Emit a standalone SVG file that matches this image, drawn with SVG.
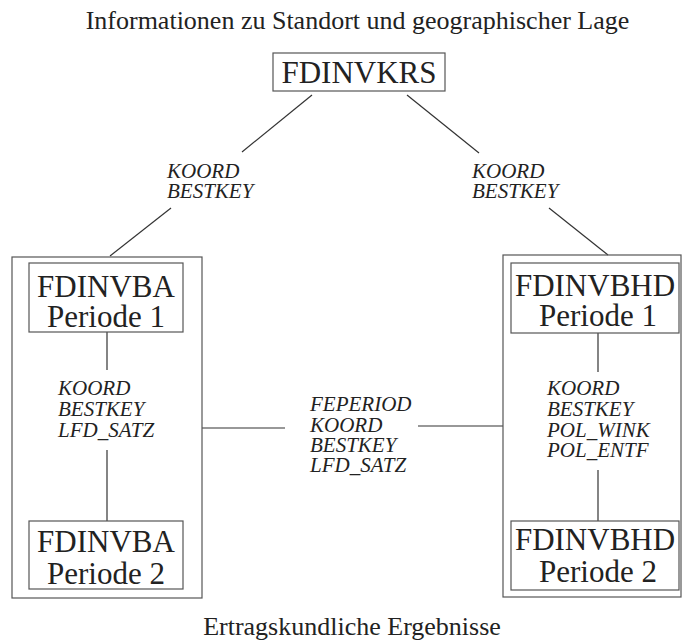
<svg xmlns="http://www.w3.org/2000/svg" width="682" height="641" viewBox="0 0 682 641">
<style>
.t{font-family:"Liberation Serif","Times New Roman",serif;fill:#222}
.h{font-size:26px}
.n{font-size:31px;text-anchor:middle}
.l{font-size:21px;font-style:italic}
.box{fill:none;stroke:#555;stroke-width:1.2}
.c{stroke:#333;stroke-width:1.2;fill:none}
</style>
<rect width="682" height="641" fill="#fff"/>
<text class="t h" x="357.5" y="29" text-anchor="middle">Informationen zu Standort und geographischer Lage</text>
<text class="t h" x="352" y="635" text-anchor="middle">Ertragskundliche Ergebnisse</text>
<g id="connectors">
<line class="c" x1="312" y1="95" x2="242" y2="152"/>
<line class="c" x1="171" y1="208" x2="110" y2="256"/>
<line class="c" x1="407" y1="95" x2="479" y2="153"/>
<line class="c" x1="549" y1="208" x2="608" y2="255"/>
<line class="c" x1="107" y1="332" x2="107" y2="370"/>
<line class="c" x1="107" y1="450" x2="107" y2="521"/>
<line class="c" x1="598" y1="333" x2="598" y2="372"/>
<line class="c" x1="598" y1="470" x2="598" y2="521"/>
<line class="c" x1="202" y1="428" x2="285" y2="428"/>
<line class="c" x1="418" y1="426" x2="503" y2="426"/>
<text class="t l" x="167" y="178">KOORD</text>
<text class="t l" x="167" y="198">BESTKEY</text>
<text class="t l" x="472" y="178">KOORD</text>
<text class="t l" x="472" y="198">BESTKEY</text>
<text class="t l" x="58" y="395">KOORD</text>
<text class="t l" x="58" y="416">BESTKEY</text>
<text class="t l" x="58" y="437">LFD_SATZ</text>
<text class="t l" x="547" y="395">KOORD</text>
<text class="t l" x="547" y="416">BESTKEY</text>
<text class="t l" x="547" y="437">POL_WINK</text>
<text class="t l" x="547" y="457">POL_ENTF</text>
<text class="t l" x="310" y="411">FEPERIOD</text>
<text class="t l" x="310" y="432">KOORD</text>
<text class="t l" x="310" y="452">BESTKEY</text>
<text class="t l" x="310" y="472">LFD_SATZ</text>
</g>
<g id="fdinvkrs">
<rect class="box" x="273" y="53" width="172" height="38"/>
<text class="t n" x="359" y="83">FDINVKRS</text>
</g>
<g id="group-ba">
<rect class="box" x="12" y="257" width="190" height="341"/>
</g>
<g id="fdinvba1">
<rect class="box" x="29" y="263" width="154" height="69"/>
<text class="t n" x="106" y="297">FDINVBA</text>
<text class="t n" x="106" y="327">Periode 1</text>
</g>
<g id="fdinvba2">
<rect class="box" x="29" y="521" width="154" height="68"/>
<text class="t n" x="106" y="552">FDINVBA</text>
<text class="t n" x="106" y="584">Periode 2</text>
</g>
<g id="group-bhd">
<rect class="box" x="503" y="255" width="178" height="342"/>
</g>
<g id="fdinvbhd1">
<rect class="box" x="511" y="263" width="168" height="70"/>
<text class="t n" x="595" y="296">FDINVBHD</text>
<text class="t n" x="598" y="326">Periode 1</text>
</g>
<g id="fdinvbhd2">
<rect class="box" x="511" y="521" width="168" height="69"/>
<text class="t n" x="595" y="550">FDINVBHD</text>
<text class="t n" x="598" y="582">Periode 2</text>
</g>
</svg>
